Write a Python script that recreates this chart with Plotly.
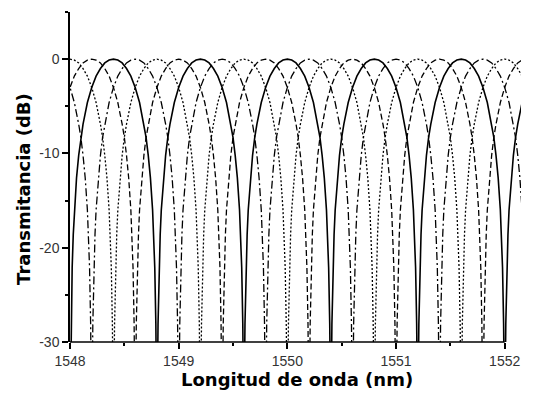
import plotly.graph_objects as go

# ---- data ----
# one passband profile (dB) versus offset from the channel peak (nm); same for all channels
profile_offset_nm = [0.00, 0.04, 0.08, 0.12, 0.16, 0.20, 0.24, 0.28, 0.30, 0.32, 0.34, 0.36, 0.37, 0.38, 0.39, 0.40]
profile_db =        [0.0, -0.1, -0.4, -1.0, -1.8, -3.0, -4.6, -6.9, -8.3, -10.2, -12.6, -16.0, -18.6, -22.1, -28.1, -40.0]

# peak wavelengths (nm) of the four channels (FSR 0.8 nm, 0.2 nm apart)
peaks_solid   = [1548.4, 1549.2, 1550.0, 1550.8, 1551.6, 1552.4]
peaks_dashdot = [1547.8, 1548.6, 1549.4, 1550.2, 1551.0, 1551.8]
peaks_dotted  = [1548.0, 1548.8, 1549.6, 1550.4, 1551.2, 1552.0]
peaks_dashed  = [1548.2, 1549.0, 1549.8, 1550.6, 1551.4, 1552.2]

x_ticks = [1548, 1549, 1550, 1551, 1552]
y_ticks = [0, -10, -20, -30]
y_tick_text = ["0", "-10", "-20", "-30"]

x_title = "Longitud de onda (nm)"
y_title = "Transmitancia (dB)"

# ---- build traces ----
def channel(peaks):
    xs, ys = [], []
    half_o = [-o for o in profile_offset_nm[::-1]] + profile_offset_nm[1:]
    half_y = profile_db[::-1] + profile_db[1:]
    for p in peaks:
        for o, v in zip(half_o, half_y):
            xs.append(round(p + o, 4))
            ys.append(v)
    return xs, ys

styles = [
    (peaks_solid, "solid", 1.6),
    (peaks_dashdot, "8px,3px,2px,3px", 1.3),
    (peaks_dotted, "2px,2px", 1.3),
    (peaks_dashed, "6px,3px", 1.3),
]

fig = go.Figure()
for peaks, dash, w in styles:
    xs, ys = channel(peaks)
    fig.add_trace(go.Scatter(x=xs, y=ys, mode="lines",
                             line=dict(color="black", width=w, dash=dash),
                             showlegend=False, hoverinfo="skip"))

font_ticks = dict(family="Liberation Sans, Arial, sans-serif", size=14, color="#333333")
font_title = dict(family="DejaVu Sans, sans-serif", size=18, color="black")

fig.update_layout(
    width=538, height=399,
    margin=dict(l=70, r=17, t=12, b=57),
    paper_bgcolor="white", plot_bgcolor="white",
    xaxis=dict(range=[1548, 1552.15], tickvals=x_ticks, ticks="outside", ticklen=6,
               tickwidth=1.5, tickcolor="black", showline=False, zeroline=False, showgrid=False,
               minor=dict(dtick=0.5, tick0=1548, ticks="outside", ticklen=3, tickwidth=1.5, tickcolor="black"),
               tickfont=font_ticks),
    yaxis=dict(range=[-30, 5], tickvals=y_ticks, ticktext=y_tick_text, ticks="outside", ticklen=6,
               tickwidth=1.5, tickcolor="black", showline=True, linewidth=1.5, linecolor="black",
               zeroline=False, showgrid=False,
               minor=dict(dtick=5, tick0=0, ticks="outside", ticklen=3, tickwidth=1.5, tickcolor="black"),
               tickfont=font_ticks),
    annotations=[
        dict(text="<b>" + y_title + "</b>", xref="paper", yref="paper",
             x=-0.102, y=0.464, xanchor="center", yanchor="middle",
             textangle=-90, showarrow=False, font=font_title),
        dict(text="<b>" + x_title + "</b>", xref="paper", yref="paper",
             x=0.503, y=-0.114, xanchor="center", yanchor="middle",
             showarrow=False, font=font_title),
    ],
    shapes=[dict(type="line", xref="x", yref="paper", x0=1548, x1=1552, y0=0, y1=0,
                 line=dict(color="black", width=1.5))],
)

fig.write_html("out.html")
